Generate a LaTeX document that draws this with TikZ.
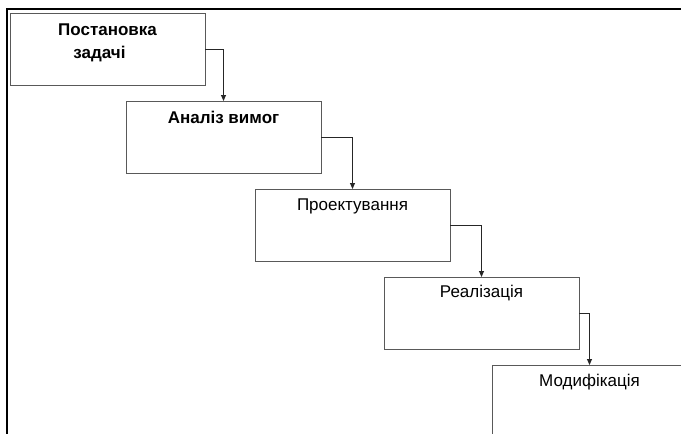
\documentclass[tikz,border=0pt]{standalone}
\usepackage{fontspec}
\setmainfont{Liberation Sans}
\usetikzlibrary{arrows.meta}
\begin{document}
\begin{tikzpicture}[x=1pt,y=-1pt,
  stagebox/.style={draw=black!65, line width=1pt, minimum width=195pt, minimum height=72pt,
     anchor=north west, inner sep=0pt, outer sep=0pt},
  stagetext/.style={font=\fontsize{17}{23}\selectfont, align=center},
  flow/.style={draw=black!85, line width=0.9pt, -{Triangle[length=6pt,width=5pt]}},
  frame/.style={draw=black, line width=1.8pt}]
\useasboundingbox (0,0) rectangle (681,434);
\clip (0,0) rectangle (681,434);
\fill[white] (0,0) rectangle (681,434);
\coordinate (fbl) at (7,440);
\coordinate (ftl) at (7,9);
\coordinate (ftr) at (690,9);
\draw[frame] (fbl) -- (ftl) -- (ftr);
\node[stagebox] (s1) at (10,13) {};
\node[stagebox] (s2) at (126,101) {};
\node[stagebox] (s3) at (255,189) {};
\node[stagebox] (s4) at (384,277) {};
\node[stagebox] (s5) at (492,365) {};
\node[stagetext, font=\bfseries\fontsize{17}{23}\selectfont, anchor=base] (t1) at ([yshift=-45pt]s1.north) {Постановка\\задачі\hspace*{16pt}};
\node[stagetext, font=\bfseries\fontsize{17}{23}\selectfont, anchor=base] (t2) at ([yshift=-22pt]s2.north) {Аналіз вимог};
\node[stagetext, anchor=base] (t3) at ([yshift=-21pt]s3.north) {Проектування};
\node[stagetext, anchor=base] (t4) at ([yshift=-20pt]s4.north) {Реалізація};
\node[stagetext, anchor=base] (t5) at ([yshift=-21pt]s5.north) {Модифікація};
\draw[flow] (s1.east) -| (s2.north);
\draw[flow] (s2.east) -| (s3.north);
\draw[flow] (s3.east) -| (s4.north);
\draw[flow] (s4.east) -| (s5.north);
\end{tikzpicture}
\end{document}
